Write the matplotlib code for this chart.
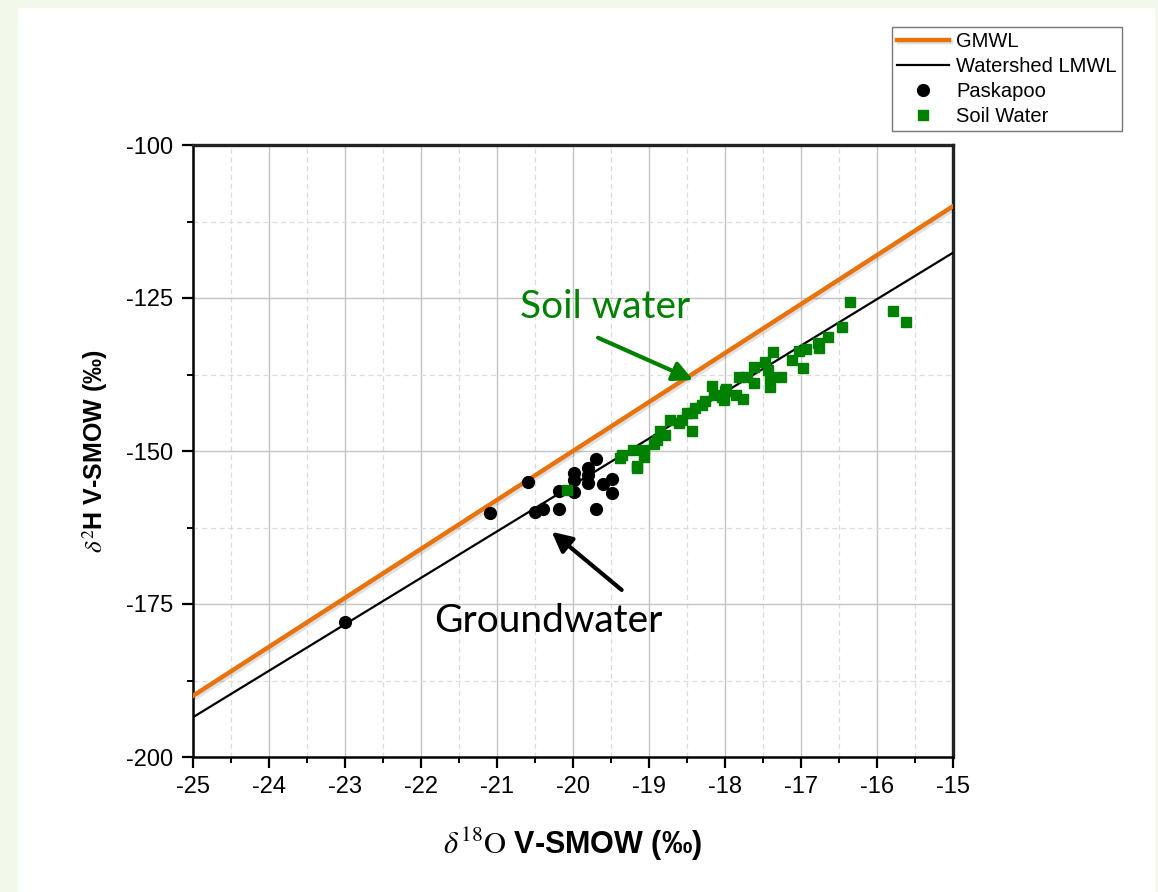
import matplotlib
matplotlib.use("Agg")
import matplotlib.pyplot as plt
import matplotlib.patheffects as pe
from matplotlib.patches import Rectangle
from matplotlib.ticker import MultipleLocator

# Meteoric water lines (end points)
line_x = [-25, -15]
gmwl_y = [-190, -110]
lmwl_y = [-193.5, -117.6]

# Paskapoo groundwater samples
pask_x = [-23.0, -21.09, -20.59, -20.50, -20.39, -20.19, -20.19, -19.99, -19.99,
          -19.99, -19.80, -19.80, -19.80, -19.70, -19.70, -19.60, -19.49, -19.49]
pask_y = [-177.9, -160.1, -155.1, -159.9, -159.4, -156.6, -159.5, -153.6, -154.7,
          -156.7, -152.7, -153.9, -155.3, -151.3, -159.4, -155.4, -154.6, -156.9]

# Soil water samples
soil_x = [-16.36, -15.79, -15.62, -16.46, -16.64, -16.77, -16.76, -16.93, -17.03,
          -17.37, -17.12, -16.98, -17.48, -17.62, -17.43, -17.41, -17.26, -17.41,
          -17.82, -17.71, -17.62, -18.17, -17.99, -17.85, -17.76, -18.04, -18.01,
          -18.15, -18.26, -18.44, -18.39, -18.50, -18.43, -18.57, -18.72, -18.79,
          -18.90, -18.86, -18.94, -19.07, -19.07, -19.21, -19.16, -19.38, -20.08,
          -19.36, -19.16, -18.30, -18.60, -18.00]
soil_y = [-125.7, -127.1, -129.0, -129.8, -131.4, -132.3, -133.2, -133.3, -133.6,
          -133.8, -135.1, -136.4, -135.5, -136.3, -136.8, -137.9, -137.9, -139.6,
          -137.9, -137.9, -138.9, -139.4, -139.9, -140.8, -141.5, -141.1, -141.7,
          -140.8, -141.9, -143.8, -143.0, -143.8, -146.7, -144.9, -145.0, -147.4,
          -148.2, -146.8, -148.8, -149.8, -150.9, -149.8, -152.8, -151.2, -156.4,
          -150.7, -152.5, -142.5, -145.5, -140.2]

plt.rcParams["font.family"] = ["Liberation Sans", "DejaVu Sans"]
plt.rcParams["mathtext.fontset"] = "stix"
plt.rcParams["axes.unicode_minus"] = False

fig = plt.figure(figsize=(11.58, 8.92), dpi=100, facecolor="#f3f9ea")
bg = Rectangle((18 / 1158, 0), 1137 / 1158, 884 / 892, transform=fig.transFigure,
               facecolor="white", edgecolor="none", zorder=-10)
fig.add_artist(bg)
ax = fig.add_axes([193 / 1158, 1 - 757 / 892, 760 / 1158, 612 / 892])
ax.set_zorder(2)

shadow = [pe.SimpleLineShadow(offset=(1.5, -1.5), alpha=0.12), pe.Normal()]
ax.plot(line_x, gmwl_y, color="#e8720c", lw=3.2, label="GMWL",
        path_effects=shadow, zorder=3)
ax.plot(line_x, lmwl_y, color="black", lw=1.6, label="Watershed LMWL", zorder=3)
ax.plot(pask_x, pask_y, "o", color="black", ms=8.5, label="Paskapoo", zorder=4)
ax.plot(soil_x, soil_y, "s", color="#008000", ms=7.5, label="Soil Water", zorder=4)

ax.set_xlim(-25, -15)
ax.set_ylim(-200, -100)
ax.xaxis.set_major_locator(MultipleLocator(1))
ax.xaxis.set_minor_locator(MultipleLocator(0.5))
ax.yaxis.set_major_locator(MultipleLocator(25))
ax.yaxis.set_minor_locator(MultipleLocator(12.5))
ax.grid(which="major", color="#c4c4c4", lw=1)
ax.grid(which="minor", color="#dcdcdc", lw=0.9, ls=(0, (4, 3)))
ax.set_axisbelow(True)
ax.tick_params(which="major", direction="out", length=8, width=1.6,
               labelsize=17, pad=6)
ax.tick_params(which="minor", direction="out", length=4, width=1.4)
for s in ax.spines.values():
    s.set_linewidth(1.8)
for s in ("top", "right"):
    ax.spines[s].set_linewidth(2.4)
    ax.spines[s].set_color("#222222")

ax.set_xlabel(r"$\delta^{18}\mathrm{O}$ V-SMOW (‰)", fontsize=22,
              fontweight="bold", labelpad=20)
ax.set_ylabel(r"$\delta^{2}$H V-SMOW (‰)", fontsize=18,
              fontweight="bold", labelpad=12)

# Annotations
ax.text(-19.58, -126.5, "Soil water", color="#008000", fontsize=28,
        family=["Lato", "DejaVu Sans"], ha="center", va="center")
ax.annotate("", xy=(-18.42, -138.4), xytext=(-19.67, -131.5),
            arrowprops=dict(arrowstyle="-|>", color="#008000", lw=3,
                            mutation_scale=30, shrinkA=0, shrinkB=0),
            zorder=5)
ax.text(-20.32, -177.8, "Groundwater", color="black", fontsize=28,
        family=["Lato", "DejaVu Sans"], ha="center", va="center")
ax.annotate("", xy=(-20.28, -163.2), xytext=(-19.36, -172.7),
            arrowprops=dict(arrowstyle="-|>", color="black", lw=3,
                            mutation_scale=30, shrinkA=0, shrinkB=0),
            zorder=5)

leg = fig.legend(loc="upper right", bbox_to_anchor=(1122 / 1158, 1 - 27 / 892),
                 fontsize=14.5, frameon=True, fancybox=False, edgecolor="#555555",
                 handlelength=2.6, handletextpad=0.35, labelspacing=0.3,
                 borderpad=0.25, borderaxespad=0)
leg.get_frame().set_linewidth(1.0)

fig.savefig("out.png", dpi=100, facecolor=fig.get_facecolor())
